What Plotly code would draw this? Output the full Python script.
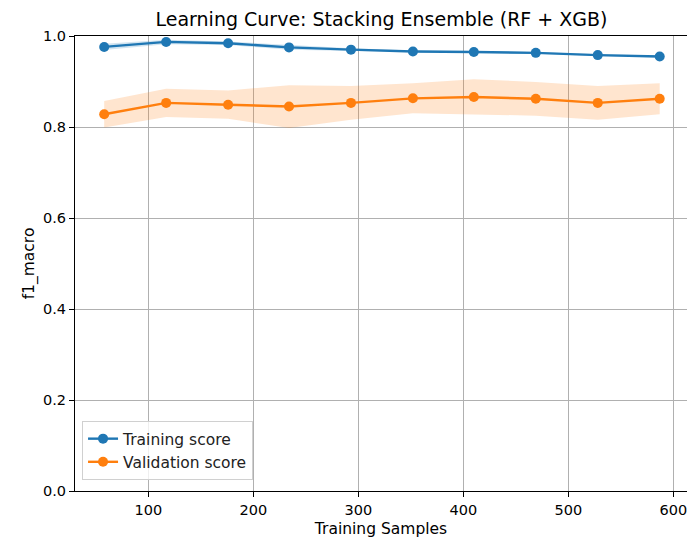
import plotly.graph_objects as go

train_sizes = [58, 117, 176, 234, 293, 352, 410, 469, 528, 587]
train_mean = [0.976, 0.987, 0.984, 0.975, 0.970, 0.966, 0.965, 0.963, 0.958, 0.955]
train_std = [0.007, 0.005, 0.004, 0.005, 0.003, 0.002, 0.002, 0.002, 0.002, 0.002]
val_mean = [0.828, 0.853, 0.849, 0.845, 0.853, 0.863, 0.866, 0.862, 0.853, 0.862]
val_std = [0.029, 0.031, 0.031, 0.047, 0.037, 0.033, 0.039, 0.037, 0.037, 0.034]
y_ticks = [0.0, 0.2, 0.4, 0.6, 0.8, 1.0]
x_ticks = [100, 200, 300, 400, 500, 600]

BLUE = "#1f77b4"
ORANGE = "#ff7f0e"
FONT = "DejaVu Sans"
FS = 15.5
TFS = 14.5

fig = go.Figure()


def band(x, m, s, color):
    upper = [a + b for a, b in zip(m, s)]
    lower = [a - b for a, b in zip(m, s)]
    return go.Scatter(
        x=list(x) + list(x)[::-1],
        y=upper + lower[::-1],
        fill="toself",
        fillcolor=color,
        line=dict(width=0),
        mode="lines",
        hoverinfo="skip",
        showlegend=False,
    )


fig.add_trace(band(train_sizes, train_mean, train_std, "rgba(31,119,180,0.2)"))
fig.add_trace(band(train_sizes, val_mean, val_std, "rgba(255,127,14,0.2)"))

fig.add_trace(go.Scatter(
    x=train_sizes, y=train_mean, mode="lines+markers", name="Training score",
    line=dict(color=BLUE, width=2.4), marker=dict(color=BLUE, size=10),
))
fig.add_trace(go.Scatter(
    x=train_sizes, y=val_mean, mode="lines+markers", name="Validation score",
    line=dict(color=ORANGE, width=2.4), marker=dict(color=ORANGE, size=10),
))

fig.update_layout(
    width=687, height=542,
    margin=dict(l=75, r=0, t=36, b=51, autoexpand=False),
    paper_bgcolor="white", plot_bgcolor="white",
    font=dict(family=FONT, size=FS, color="#000000"),
    title=dict(
        text="Learning Curve: Stacking Ensemble (RF + XGB)",
        font=dict(family=FONT, size=19, color="#000000"),
        x=(75 + 688) / 2 / 687, xanchor="center",
        y=1 - 19 / 542, yanchor="middle",
    ),
    legend=dict(
        x=0.0115, y=0.024, xanchor="left", yanchor="bottom",
        bgcolor="rgba(255,255,255,0.8)", bordercolor="#d0d0d0", borderwidth=1,
        font=dict(family=FONT, size=FS, color="#222222"),
        itemwidth=30, tracegroupgap=0,
    ),
    showlegend=True,
)

fig.update_xaxes(
    range=[30.2, 613.0],
    tickvals=x_ticks, ticktext=[str(v) for v in x_ticks],
    ticklabeloverflow="allow",
    tickfont=dict(family=FONT, size=TFS, color="#000000"),
    showgrid=True, gridcolor="#b0b0b0", gridwidth=1,
    showline=True, linecolor="#000000", linewidth=1.2, mirror=True,
    ticks="outside", ticklen=5, tickcolor="#000000",
    zeroline=False,
    title=dict(text="Training Samples", standoff=6,
               font=dict(family=FONT, size=FS, color="#000000")),
)
fig.update_yaxes(
    range=[0, 1],
    tickvals=y_ticks, ticktext=[f"{v:.1f}" for v in y_ticks],
    tickfont=dict(family=FONT, size=TFS, color="#000000"),
    showgrid=True, gridcolor="#b0b0b0", gridwidth=1,
    showline=True, linecolor="#000000", linewidth=1.2, mirror=False,
    ticks="outside", ticklen=5, tickcolor="#000000",
    zeroline=False,
    title=dict(text="f1_macro", standoff=4,
               font=dict(family=FONT, size=FS, color="#000000")),
)

fig.write_html(
    "out.html",
    config={"displayModeBar": False},
    post_script="document.body.style.margin='0';document.body.style.overflow='hidden';",
)
